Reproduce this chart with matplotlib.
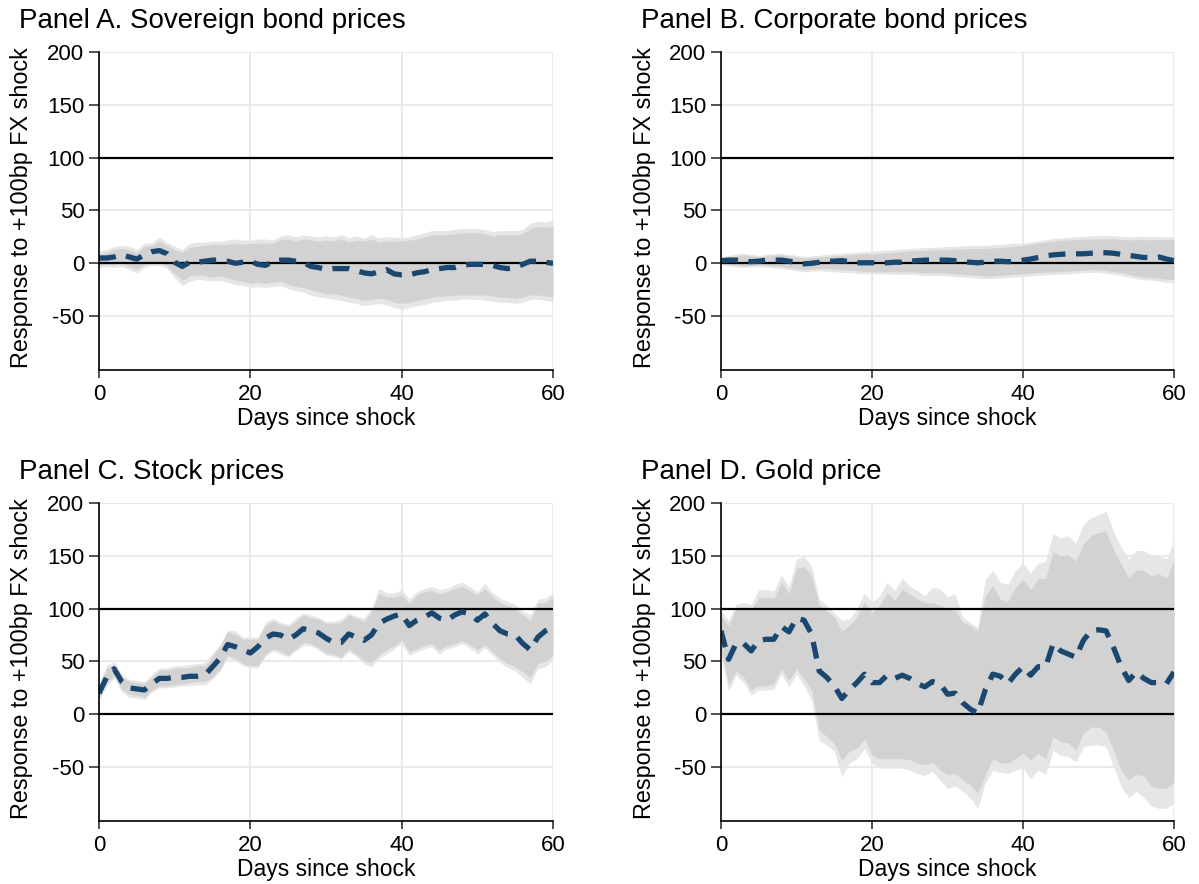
import matplotlib
matplotlib.use("Agg")
import matplotlib.pyplot as plt
import numpy as np

plt.rcParams['font.family'] = ['Liberation Sans', 'DejaVu Sans']
plt.rcParams['axes.unicode_minus'] = False

days = list(range(61))

# ---------------- Panel A: Sovereign bond prices ----------------
a_est = [5, 5, 6, 8, 6, 4, 8, 11, 12, 9, 1, -3, 1, 1, 2, 3, 3, 2, 0, 1, 2, -1, -2, 2, 3, 3, 2, 1, -3, -4,
         -6, -5, -5, -5, -7, -9, -10, -8, -6, -10, -11, -11, -9, -8, -6, -5, -4, -4, -2, -1, -1, -1, -2, -4, -5,
         -4, -1, 2, 2, 1, 0]
a_hi95 = [12, 13, 16, 17, 16, 13, 19, 20, 25, 20, 16, 13, 19, 20, 20, 21, 21, 22, 23, 22, 22, 23, 23, 22, 26,
          27, 25, 27, 26, 25, 26, 25, 27, 24, 26, 24, 27, 24, 25, 25, 24, 25, 27, 29, 31, 31, 31, 32, 33, 33,
          33, 32, 30, 31, 31, 31, 32, 38, 40, 39, 41]
a_hi90 = [9, 10, 13, 14, 13, 10, 16, 17, 21, 17, 13, 10, 15, 16, 17, 18, 18, 18, 19, 18, 19, 19, 19, 19, 22,
          23, 21, 23, 22, 21, 22, 21, 23, 20, 22, 21, 23, 20, 21, 21, 21, 22, 23, 25, 27, 27, 27, 28, 29, 29,
          29, 28, 26, 27, 27, 27, 28, 33, 35, 34, 35]
a_lo90 = [-2, -1, -1, 0, -3, -6, -1, 1, 1, -2, -10, -16, -12, -11, -12, -13, -12, -14, -16, -17, -19, -18, -19,
          -18, -17, -20, -22, -23, -25, -27, -29, -29, -30, -32, -33, -35, -34, -33, -34, -37, -38, -37, -35,
          -34, -32, -31, -31, -30, -30, -30, -30, -30, -31, -32, -32, -33, -32, -30, -30, -31, -32]
a_lo95 = [-4, -3, -4, -3, -6, -9, -4, -2, -2, -5, -14, -21, -17, -15, -16, -17, -16, -18, -20, -21, -23, -22,
          -23, -22, -21, -24, -26, -27, -30, -32, -33, -34, -35, -37, -38, -40, -39, -38, -39, -42, -44, -42,
          -40, -39, -37, -36, -35, -35, -34, -34, -34, -35, -36, -37, -37, -38, -37, -34, -34, -35, -36]

# ---------------- Panel B: Corporate bond prices ----------------
b_est = [2.5, 3, 3, 2, 1.5, 2, 3, 3, 3, 2, 0.5, -0.5, 0, 1, 2, 2, 2.5, 1.5, 0.5, 0.5, 0.5, 0.5, 0.5, 1, 1, 2,
         2.5, 3, 3, 3, 3, 2.5, 1.5, 1, 0.5, 1, 2, 2, 1.5, 2, 3, 4, 5.5, 7, 8, 8.5, 9, 9, 9, 9.5, 10, 10, 9.5,
         8.5, 7.5, 6.5, 5.5, 5.5, 6, 4, 2.5]
b_hi95 = [6, 7.5, 9, 9.5, 8.5, 7.5, 8.5, 9, 9.5, 8.5, 7.5, 6.5, 7, 7.5, 8.5, 9, 9.5, 10, 10.5, 11, 11.5, 12,
          12.5, 13, 13.5, 14, 14.5, 15, 15, 15.5, 16, 16, 16.5, 17, 17, 17, 17.5, 18, 18.5, 19, 19, 20, 21,
          22.5, 23.5, 24, 24.5, 25, 25.5, 26, 26.5, 26.5, 26, 25.5, 25, 25.5, 25.5, 25, 25.5, 25, 25]
b_hi90 = [5, 6, 7, 8, 7, 6, 7, 7.5, 8, 7, 6, 5, 5.5, 6, 6.5, 7, 7.5, 8, 8.5, 9, 9, 9.5, 10, 10.5, 11, 12, 12,
          12.5, 12.5, 13, 13, 13.5, 13.5, 14, 14, 14, 14.5, 15, 15.5, 16, 17, 18, 19, 20, 21, 22, 22, 22.5, 23,
          23, 23, 23, 23, 22.5, 22, 22.5, 22.5, 22, 22.5, 22.5, 22.5]
b_lo90 = [-0.5, -1, -1.5, -2.5, -2, -1.5, -2, -2.5, -3, -4, -5, -6, -5.5, -5, -5, -5.5, -6, -6.5, -7, -7.5, -8,
          -8, -8, -8, -8, -8, -8.5, -9, -9, -9, -9.5, -10, -10.5, -11, -11.5, -12, -12, -11.5, -11, -10.5, -10,
          -9.5, -9, -8.5, -8, -8, -7.5, -7, -6.5, -6, -6, -7, -8, -9, -10.5, -12, -13, -13.5, -14, -15, -15.5]
b_lo95 = [-1.5, -2.5, -3.5, -4, -3.5, -3, -3.5, -4.5, -5, -6, -7, -8, -7.5, -7, -7.5, -8, -8.5, -9, -9.5, -10,
          -10, -10, -10, -10.5, -10.5, -10.5, -11, -11.5, -11.5, -11.5, -12, -12.5, -13, -13.5, -14, -14.5,
          -14.5, -14, -13.5, -13, -12.5, -12, -11.5, -11, -10.5, -10.5, -10, -9.5, -9, -8.5, -8.5, -9.5,
          -10.5, -11.5, -13, -14.5, -15.5, -16, -17, -18, -18.5]

# ---------------- Panel C: Stock prices ----------------
c_est = [20, 35, 43, 31, 25, 24, 23, 29, 34, 34, 35, 35, 36, 36, 37, 45, 53, 66, 64, 61, 58, 64, 72, 76, 75, 71,
         75, 81, 79, 77, 72, 68, 68, 76, 73, 70, 75, 86, 90, 93, 95, 84, 89, 92, 96, 91, 89, 94, 97, 95, 89,
         95, 86, 79, 76, 75, 67, 61, 73, 79, 83]
c_hi95 = [29, 46, 50, 38, 33, 32, 31, 38, 44, 44, 46, 46, 47, 48, 49, 58, 66, 80, 79, 73, 73, 73, 87, 91, 87,
          85, 91, 96, 94, 92, 88, 88, 90, 96, 93, 91, 100, 119, 115, 115, 118, 109, 116, 119, 121, 118, 119,
          123, 125, 121, 116, 124, 115, 110, 107, 104, 98, 94, 109, 110, 115]
c_hi90 = [26, 43, 47, 35, 31, 30, 29, 35, 42, 42, 43, 44, 44, 46, 46, 55, 64, 78, 76, 71, 71, 71, 84, 88, 85,
          83, 88, 94, 91, 90, 86, 86, 87, 94, 91, 88, 97, 114, 111, 111, 113, 105, 113, 116, 117, 114, 116,
          119, 121, 117, 113, 119, 111, 106, 103, 100, 94, 89, 105, 106, 111]
c_lo90 = [15, 29, 37, 24, 19, 18, 16, 23, 27, 27, 28, 29, 30, 31, 31, 35, 43, 56, 53, 48, 46, 46, 57, 62, 60,
          56, 62, 68, 67, 63, 58, 57, 54, 62, 57, 51, 49, 56, 61, 65, 70, 59, 62, 65, 67, 61, 65, 67, 70, 66,
          61, 66, 59, 53, 48, 45, 40, 35, 48, 50, 56]
c_lo95 = [13, 27, 34, 21, 16, 15, 14, 21, 25, 25, 26, 27, 27, 28, 28, 33, 41, 53, 51, 46, 44, 44, 55, 60, 57,
          54, 60, 65, 65, 61, 56, 55, 52, 59, 55, 48, 45, 53, 57, 62, 67, 56, 59, 62, 64, 57, 62, 64, 67, 63,
          57, 63, 56, 49, 44, 41, 35, 29, 43, 45, 51]

# ---------------- Panel D: Gold price ----------------
d_est = [79, 52, 67, 67, 60, 70, 71, 71, 83, 78, 91, 89, 76, 41, 35, 27, 15, 23, 30, 38, 30, 30, 37, 34, 37,
         34, 29, 26, 31, 29, 19, 20, 11, 5, 1, 23, 38, 36, 29, 38, 45, 37, 45, 45, 67, 60, 57, 54, 70, 79, 80,
         79, 63, 45, 32, 40, 34, 30, 30, 29, 40]
d_hi95 = [98, 89, 104, 106, 104, 118, 118, 117, 132, 121, 147, 150, 140, 109, 103, 96, 89, 90, 100, 115, 106,
          112, 125, 117, 129, 121, 117, 112, 120, 119, 111, 114, 92, 87, 82, 128, 136, 125, 123, 136, 143, 134,
          143, 145, 171, 167, 169, 162, 180, 186, 189, 192, 173, 158, 147, 155, 155, 150, 150, 147, 164]
d_hi90 = [93, 84, 100, 100, 99, 110, 111, 110, 125, 114, 138, 140, 131, 104, 98, 92, 79, 84, 92, 106, 96, 103,
          115, 108, 118, 114, 109, 106, 106, 103, 100, 98, 87, 84, 79, 112, 122, 109, 107, 120, 128, 118, 128,
          129, 154, 150, 151, 145, 161, 169, 172, 173, 156, 142, 129, 137, 136, 131, 133, 129, 145]
d_lo90 = [62, 28, 41, 35, 23, 27, 27, 29, 43, 32, 43, 34, 23, -15, -21, -28, -43, -35, -32, -23, -39, -42, -42,
          -42, -42, -43, -46, -48, -45, -53, -57, -56, -62, -67, -75, -57, -42, -46, -46, -42, -37, -43, -37,
          -42, -21, -26, -27, -34, -18, -12, -12, -17, -34, -53, -62, -57, -58, -68, -70, -70, -64]
d_lo95 = [55, 22, 37, 30, 18, 23, 23, 24, 38, 26, 38, 27, 13, -25, -29, -35, -59, -46, -42, -32, -46, -51, -51,
          -51, -51, -53, -56, -58, -54, -62, -70, -68, -73, -79, -89, -65, -53, -55, -56, -53, -51, -61, -53,
          -57, -34, -39, -40, -45, -31, -29, -29, -31, -50, -68, -79, -73, -79, -87, -89, -89, -84]

titles = ["Panel A. Sovereign bond prices", "Panel B. Corporate bond prices",
          "Panel C. Stock prices", "Panel D. Gold price"]
ylabel = "Response to +100bp FX shock"
xlabel = "Days since shock"
yticks = [-50, 0, 50, 100, 150, 200]
xticks = [0, 20, 40, 60]
ref_lines = [0, 100]

panels = [
    (a_est, a_lo95, a_hi95, a_lo90, a_hi90),
    (b_est, b_lo95, b_hi95, b_lo90, b_hi90),
    (c_est, c_lo95, c_hi95, c_lo90, c_hi90),
    (d_est, d_lo95, d_hi95, d_lo90, d_hi90),
]

W, H = 1199, 884
fig = plt.figure(figsize=(W / 100, H / 100), dpi=100)

# axes pixel boxes: left, right, top, bottom
boxes = [(99, 553, 52, 370), (721, 1174, 52, 370),
         (99, 553, 503, 821), (721, 1174, 503, 821)]

line_color = "#1a476f"
c90 = "#d2d2d2"
c95 = "#e6e6e6"
grid_color = "#e6e6e6"

def px(x, y):
    return x / W, 1 - y / H

for i, ((est, lo95, hi95, lo90, hi90), (l, r, t, b)) in enumerate(zip(panels, boxes)):
    ax = fig.add_axes([l / W, 1 - b / H, (r - l) / W, (b - t) / H])
    ax.fill_between(days, lo95, hi95, color=c95, lw=0, zorder=1)
    ax.fill_between(days, lo90, hi90, color=c90, lw=0, zorder=2)
    for yv in ref_lines:
        ax.axhline(yv, color="black", lw=1.6, zorder=3)
    ax.plot(days, est, color=line_color, lw=3.8, dashes=(3.2, 2.0), zorder=4,
            dash_capstyle="butt")
    ax.set_xlim(0, 60)
    ax.set_ylim(-101, 200)
    ax.set_xticks(xticks)
    ax.set_yticks(yticks)
    ax.grid(True, color=grid_color, lw=1.2, zorder=0)
    ax.set_axisbelow(True)
    for s in ["top", "right"]:
        ax.spines[s].set_visible(False)
    for s in ["left", "bottom"]:
        ax.spines[s].set_linewidth(1.2)
        ax.spines[s].set_zorder(5)
    ax.tick_params(axis="y", labelsize=16, length=7.5, width=1.2, pad=3, color="#333333")
    ax.tick_params(axis="x", labelsize=16, length=6, width=1.2, pad=4, color="#333333")
    # panel texts
    fig.text(*px(l - 77, (t + b) / 2 - 3), ylabel, fontsize=16.8, rotation=90,
             ha="center", va="center")
    fig.text(*px((l + r) / 2, b + 55), xlabel, fontsize=16.5, ha="center", va="baseline")
    fig.text(*px(l - 80, t - 24), titles[i], fontsize=20, ha="left", va="baseline")

fig.savefig("out.png", dpi=100)
